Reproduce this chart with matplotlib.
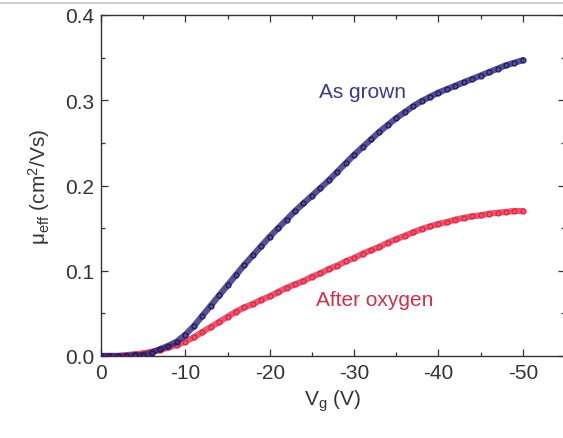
import numpy as np
import matplotlib.pyplot as plt
from matplotlib.lines import Line2D
from matplotlib.ticker import MultipleLocator, FormatStrFormatter

plt.rcParams['font.family'] = ['Liberation Sans', 'DejaVu Sans']
plt.rcParams['mathtext.fontset'] = 'custom'
plt.rcParams['mathtext.rm'] = 'Liberation Sans'
plt.rcParams['mathtext.it'] = 'Liberation Sans:italic'

# 栅压 (V)
vg = np.arange(0, -51, -1)

# 生长态
as_grown = [0.000, 0.000, 0.000, 0.000, 0.001, 0.001, 0.004, 0.008, 0.012, 0.017,
            0.025, 0.035, 0.047, 0.059, 0.071, 0.083, 0.095, 0.107, 0.118, 0.129,
            0.140, 0.150, 0.160, 0.170, 0.179, 0.188, 0.197, 0.206, 0.216, 0.226,
            0.236, 0.245, 0.254, 0.263, 0.271, 0.279, 0.286, 0.293, 0.299, 0.304,
            0.309, 0.313, 0.317, 0.321, 0.325, 0.329, 0.333, 0.337, 0.341, 0.344,
            0.347]

# 氧处理后
after_oxygen = [0.000, 0.000, 0.000, 0.001, 0.002, 0.003, 0.005, 0.007, 0.010, 0.013,
                0.017, 0.022, 0.028, 0.034, 0.040, 0.046, 0.052, 0.057, 0.061, 0.066,
                0.070, 0.075, 0.080, 0.084, 0.088, 0.093, 0.097, 0.102, 0.106, 0.111,
                0.115, 0.120, 0.124, 0.128, 0.133, 0.137, 0.141, 0.145, 0.149, 0.152,
                0.155, 0.157, 0.160, 0.162, 0.164, 0.165, 0.167, 0.168, 0.169, 0.170,
                0.170]

blue = '#2a2478'
red = '#e2203f'
fs = 15

fig = plt.figure(figsize=(5.63, 4.39), dpi=100)
ax = fig.add_axes([101 / 563, 82 / 439, 464 / 563, 341 / 439])

# 数据点很密，画成一条粗带再叠上空心圆
ax.plot(vg, after_oxygen, color=red, lw=4.5, alpha=0.75, solid_capstyle='round', zorder=2)
ax.plot(vg, after_oxygen, 'o', color=red, ms=3.5, mfc='none', mew=0.9, zorder=3)
ax.plot(vg, as_grown, color=blue, lw=4.5, alpha=0.8, solid_capstyle='round', zorder=4)
ax.plot(vg, as_grown, 'o', color='#1c1860', ms=3.5, mfc='none', mew=0.9, zorder=5)

ax.text(-31.0, 0.31, 'As grown', color='#3c3a88', fontsize=fs, ha='center', va='center')
ax.text(-32.5, 0.066, 'After oxygen', color='#d0304a', fontsize=fs, ha='center', va='center')

ax.set_xlim(0, -55)
ax.set_ylim(0, 0.4)
ax.xaxis.set_major_locator(MultipleLocator(10))
ax.xaxis.set_minor_locator(MultipleLocator(5))
ax.yaxis.set_major_locator(MultipleLocator(0.1))
ax.yaxis.set_minor_locator(MultipleLocator(0.05))
ax.xaxis.set_major_formatter(FormatStrFormatter('%d'))
ax.yaxis.set_major_formatter(FormatStrFormatter('%.1f'))

ax.tick_params(which='both', direction='in', top=True, right=True,
               labelsize=fs, labelcolor='#333333', color='#333333', width=0.9)
ax.tick_params(which='major', length=5, pad=5)
ax.tick_params(which='minor', length=3)
for s in ax.spines.values():
    s.set_color('#333333')
    s.set_linewidth(1.0)

ax.set_xlabel(r'V$_{\rm g}$ (V)', fontsize=fs, color='#333333', labelpad=4)
ax.set_ylabel(r'μ$_{\rm eff}$ (cm$^{2}$/Vs)', fontsize=fs, color='#333333', labelpad=9)

fig.add_artist(Line2D([0, 1], [1 - 4 / 439, 1 - 4 / 439], color='#cccccc', lw=1.5))

fig.savefig('out.png', dpi=100)
